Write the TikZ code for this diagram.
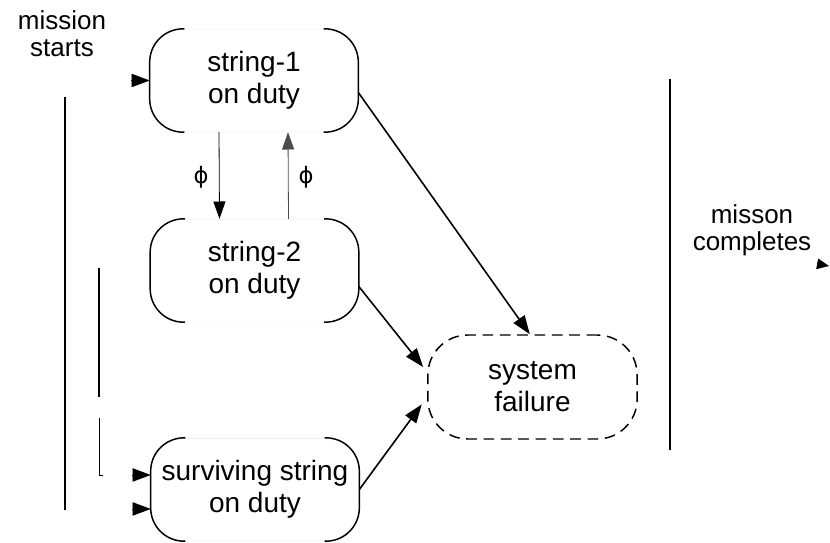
\documentclass[tikz,border=0pt]{standalone}
\usepackage{fontspec}
\setmainfont{Liberation Sans}
\newfontfamily\phifont{DejaVu Sans}
\usetikzlibrary{arrows.meta}
\begin{document}
\begin{tikzpicture}[x=0.75pt,y=-0.75pt,
  state/.style={minimum width=156pt,minimum height=77pt,inner sep=0pt,align=center,
    font=\fontsize{21}{24}\selectfont,draw=black!22,densely dotted,line width=0.5pt,
    rounded corners=25pt},
  side/.style={line width=1.1pt,rounded corners=25pt},
  failbox/.style={minimum width=157pt,minimum height=78pt,inner sep=0pt,align=center,
    font=\fontsize{21}{24}\selectfont,draw,line width=1.1pt,
    dash pattern=on 8pt off 5pt,rounded corners=30pt},
  label/.style={align=center,font=\fontsize{19.5}{20}\selectfont},
  philabel/.style={font=\phifont\fontsize{17}{17}\selectfont},
  flow/.style={line width=1.2pt,-{Triangle[length=14pt,width=10pt]}},
  swap/.style={line width=0.6pt,-{Triangle[length=13pt,width=9pt]}},
  entry/.style={-{Triangle[length=13.5pt,width=10pt]}},
  exit/.style={-{Triangle[length=9pt,width=8pt]}},
  bar/.style={line width=1.3pt},
]
\useasboundingbox (0,0) rectangle (830,542);

% states
\node[state] (s1) at (254,80.5) {string-1\\on duty};
\node[state] (s2) at (254.5,270.5) {string-2\\on duty};
\node[state] (s3) at (255,489.5) {surviving string\\on duty};
\node[failbox] (fail) at (532.5,387) {system\\failure};

% solid curved ends of the state boxes
\foreach \n in {s1,s2,s3}{
  \draw[side] ([xshift=26pt]\n.north west) -- (\n.north west) -- (\n.south west) -- ([xshift=26pt]\n.south west);
  \draw[side] ([xshift=-26pt]\n.north east) -- (\n.north east) -- (\n.south east) -- ([xshift=-26pt]\n.south east);
}

% labels
\node[label] (start) at (62,34) {mission\\starts};
\node[label] (done) at (752,230) {misson\\completes};
\node[philabel] (phi1) at (201,177) {ϕ};
\node[philabel] (phi2) at (306,177) {ϕ};

% switching between strings
\draw[swap] ([xshift=-26.25pt]s1.south) -- ([xshift=-26.25pt]s2.north);
\draw[swap,draw=black!70] ([xshift=25.5pt]s2.north) -- ([xshift=25.5pt]s1.south);

% transitions to failure
\draw[flow] ([yshift=-9pt]s1.east) -- ([xshift=-2pt]fail.north);
\draw[flow] ([yshift=-12pt]s2.east) -- ([xshift=-3pt,yshift=15pt]fail.west);
\draw[flow] ([yshift=0pt]s3.east) -- ([xshift=-4pt,yshift=-13pt]fail.west);

% entry arrowheads
\draw[entry] ([xshift=-14pt]s1.west) -- (s1.west);
\draw[entry] ([xshift=-14pt,yshift=10.9pt]s3.west) -- ([yshift=10.9pt]s3.west);
\draw[entry] ([xshift=-14pt,yshift=-14.6pt]s3.west) -- ([yshift=-14.6pt]s3.west);

% time bars
\coordinate (a1) at (65,97);  \coordinate (a2) at (65,510);
\coordinate (b1) at (99,268); \coordinate (b2) at (99,397);
\coordinate (c1) at (99,418); \coordinate (c2) at (99,475); \coordinate (c3) at (103,475);
\coordinate (d1) at (670,79); \coordinate (d2) at (670,450);
\draw[bar] (a1) -- (a2);
\draw[bar] (b1) -- (b2);
\draw[line width=0.5pt] (c1) -- (c2) -- (c3);
\draw[bar,line width=1pt] (d1) -- (d2);

% exit arrowhead
\coordinate (e1) at (818,264);
\coordinate (e2) at (829,266);
\draw[exit] (e1) -- (e2);
\end{tikzpicture}
\end{document}
